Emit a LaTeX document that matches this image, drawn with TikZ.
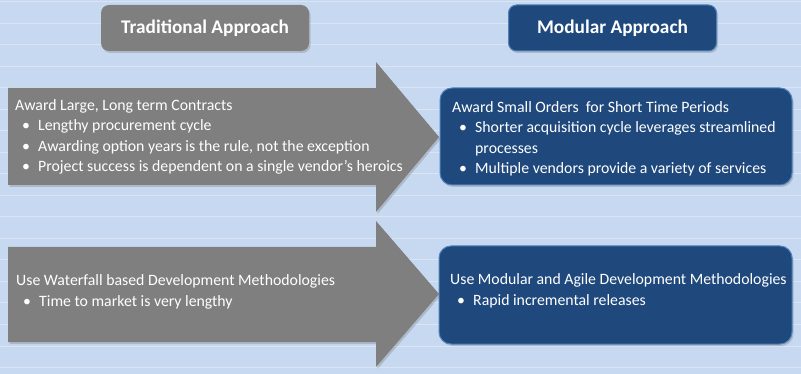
\documentclass[tikz,border=0pt]{standalone}
\usepackage{fontspec}
\setmainfont{Carlito}
\usetikzlibrary{positioning,shadows}
\definecolor{bgblue}{RGB}{198,217,241}
\definecolor{gridline}{RGB}{218,228,243}
\definecolor{oldgray}{RGB}{127,127,127}
\definecolor{modblue}{RGB}{31,73,125}
\definecolor{modedge}{RGB}{79,129,189}
\newcommand{\bitem}[1]{\\\hspace*{7pt}\makebox[16pt][l]{\textbullet}#1}

\begin{document}
\begin{tikzpicture}[
x=1pt, y=-1pt,
shade/.style={drop shadow={shadow xshift=1.5pt, shadow yshift=-2pt, opacity=0.35}},
title/.style={rounded corners=8pt, minimum width=208pt, minimum height=46pt, text=white, font=\fontsize{19.3}{22}\selectfont\bfseries, shade},
oldtitle/.style={title, fill=oldgray},
newtitle/.style={title, fill=modblue, draw=modedge, line width=1pt},
txt/.style={anchor=west, align=left, inner sep=0pt, text=white, font=\fontsize{15.8}{20.5}\selectfont},
bigarrow/.style={fill=oldgray, shade},
newbox/.style={fill=modblue, draw=modedge, line width=1pt, rounded corners=12pt, shade}
]
\useasboundingbox (0,0) rectangle (801,374);
\fill[bgblue] (0,0) rectangle (801,374);
\foreach \k in {0,...,17}
  \draw[gridline, line width=1pt] (0,2+21.5*\k) -- (801,2+21.5*\k);

% headings
\node[oldtitle] (trad) at (205,28) {Traditional Approach};
\node[newtitle] (mod) at (612.5,28) {Modular Approach};

% contracts row
\fill[bigarrow] (8,88) -- (376,88) -- (376,62) -- (439,137) -- (376,212) -- (376,185) -- (8,185) -- cycle;
\draw[newbox] (440,88) rectangle (792,185);
\node[txt] (large) at (15,137) {Award Large, Long term Contracts
  \bitem{Lengthy procurement cycle}
  \bitem{Awarding option years is the rule, not the exception}
  \bitem{Project success is dependent on a single vendor’s heroics}};
\node[txt] (small) at (452,139) {Award Small Orders\ \ for Short Time Periods
  \bitem{Shorter acquisition cycle leverages streamlined}\\\hspace*{23pt}processes
  \bitem{Multiple vendors provide a variety of services}};

% methodology row
\fill[bigarrow] (8,247) -- (376,247) -- (376,221) -- (439,294) -- (376,367) -- (376,342) -- (8,342) -- cycle;
\draw[newbox] (439,246) rectangle (792,344);
\node[txt] (waterfall) at (16,292) {Use Waterfall based Development Methodologies
  \bitem{Time to market is very lengthy}};
\node[txt] (agile) at (450,291) {Use Modular and Agile Development Methodologies
  \bitem{Rapid incremental releases}};
\end{tikzpicture}
\end{document}
